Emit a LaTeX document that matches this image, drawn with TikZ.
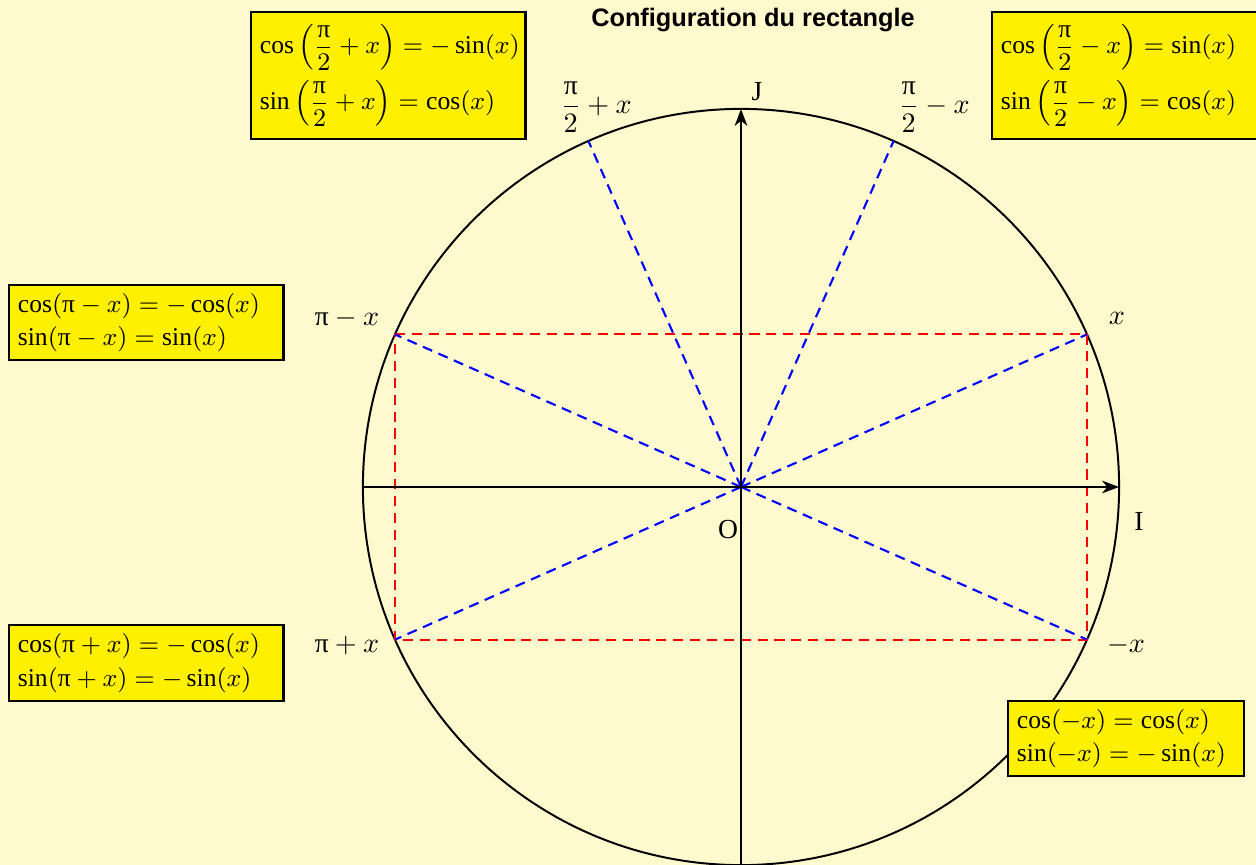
\documentclass[tikz,border=0pt]{standalone}
\usepackage{amsmath}
\usepackage{fontspec}
\setmainfont{Liberation Serif}
\newfontfamily\titlefont{Liberation Sans}
\newcommand{\upi}{\text{π}}
\usetikzlibrary{arrows.meta}
\definecolor{bgcol}{RGB}{255,250,205}
\definecolor{boxy}{RGB}{255,240,0}
\tikzset{
  formbox/.style={draw, line width=0.8pt, fill=boxy, anchor=north west,
    inner xsep=0.11cm, inner ysep=0pt, align=left, minimum height=0.9375cm,
    text width=3.21cm, font=\fontsize{9.1pt}{12pt}\selectfont},
  axis/.style={line width=0.7pt, -{Stealth[length=6pt,width=4.5pt,inset=1.8pt]}},
  bluedash/.style={blue, line width=0.75pt, dash pattern=on 3.6pt off 2.4pt},
  reddash/.style={red, line width=0.75pt, dash pattern=on 3.6pt off 2.4pt},
  lab/.style={inner sep=0pt, font=\fontsize{9.8pt}{12pt}\selectfont},
}
\begin{document}
\begin{tikzpicture}[x=0.0125cm,y=0.0125cm]
\fill[bgcol] (0,0) rectangle (1256,-865);
\useasboundingbox (0,0) rectangle (1256,-865);
\clip (0,0) rectangle (1256,-865);
% title
\node[inner sep=0pt] (title) at (753,-20) {\titlefont\bfseries\small Configuration du rectangle};
% circle and points
\coordinate (O) at (741,-487);
\draw[line width=0.7pt] (O) circle[radius=4.725cm];
\coordinate (Px)  at ([shift={(23.8:4.725cm)}]O);
\coordinate (Ppx) at ([shift={(156.2:4.725cm)}]O);
\coordinate (Ppxp) at ([shift={(203.8:4.725cm)}]O);
\coordinate (Pmx) at ([shift={(-23.8:4.725cm)}]O);
\coordinate (Php) at ([shift={(113.8:4.725cm)}]O);
\coordinate (Phm) at ([shift={(66.2:4.725cm)}]O);
\coordinate (Xl) at (363,-487);
\coordinate (Xr) at (1119,-487);
\coordinate (Yb) at (741,-865);
\coordinate (Yt) at (741,-109);
% rectangle
\draw[reddash] (Ppx) -- (Px) -- (Pmx) -- (Ppxp) -- cycle;
% blue rays
\foreach \p in {Px,Ppx,Ppxp,Pmx,Php,Phm} \draw[bluedash] (O) -- (\p);
% axes
\draw[axis] (Xl) -- (Xr);
\draw[axis] (Yb) -- (Yt);
% labels
\node[lab] (lx) at (1117,-318) {$x$};
\node[lab] (lpmx) at (347,-318) {$\upi - x$};
\node[lab] (lppx) at (347,-645) {$\upi + x$};
\node[lab] (lmx) at (1126,-645) {$-x$};
\node[lab] (lhp) at (596,-107) {$\dfrac{\upi}{2}+x$};
\node[lab] (lhm) at (934,-107) {$\dfrac{\upi}{2}-x$};
\node[lab] (lJ) at (757,-92) {J};
\node[lab] (lO) at (728,-530) {O};
\node[lab] (lI) at (1139,-521) {I};
% boxes
\node[formbox, minimum height=1.5875cm] (bTL) at (250,-11)
  {\vspace*{3pt}\mbox{$\cos\left(\dfrac{\upi}{2}+x\right)=-\sin(x)$}\\[-0.5pt]
   \mbox{$\sin\left(\dfrac{\upi}{2}+x\right)=\cos(x)$}};
\node[formbox, minimum height=1.5875cm] (bTR) at (991,-11)
  {\vspace*{3pt}\mbox{$\cos\left(\dfrac{\upi}{2}-x\right)=\sin(x)$}\\[-0.5pt]
   \mbox{$\sin\left(\dfrac{\upi}{2}-x\right)=\cos(x)$}};
\node[formbox] (bL1) at (8,-284)
  {\mbox{$\cos(\upi-x)=-\cos(x)$}\\ \mbox{$\sin(\upi-x)=\sin(x)$}};
\node[formbox, minimum height=0.95cm] (bL2) at (8,-624)
  {\mbox{$\cos(\upi+x)=-\cos(x)$}\\ \mbox{$\sin(\upi+x)=-\sin(x)$}};
\node[formbox, text width=2.725cm] (bBR) at (1007,-700)
  {\mbox{$\cos(-x)=\cos(x)$}\\ \mbox{$\sin(-x)=-\sin(x)$}};
\end{tikzpicture}
\end{document}
